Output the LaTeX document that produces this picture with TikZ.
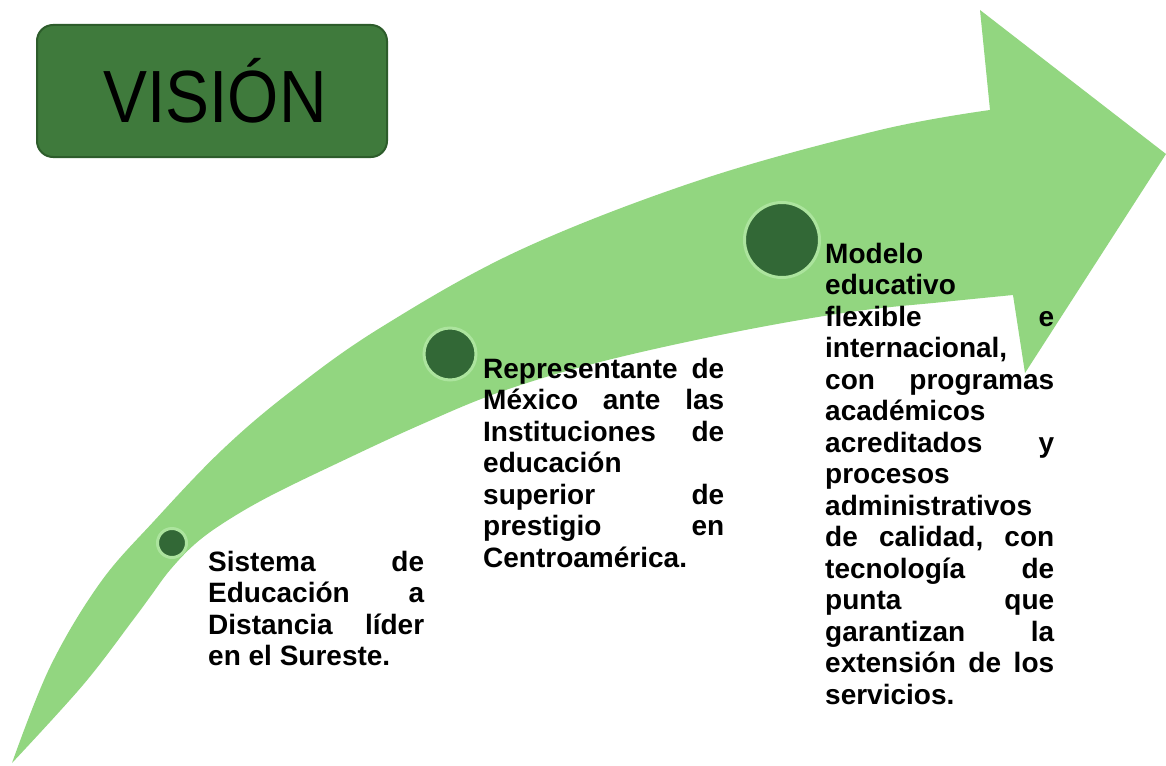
\documentclass[tikz,border=0pt]{standalone}
\usepackage{fontspec}
\setmainfont{Liberation Sans}
\definecolor{arrowgreen}{RGB}{146,214,128}
\definecolor{dotgreen}{RGB}{50,104,54}
\definecolor{halogreen}{RGB}{172,228,158}
\definecolor{boxgreen}{RGB}{63,122,60}
\definecolor{boxedge}{RGB}{45,92,43}
\tikzset{
  txt/.style={anchor=base west, inner sep=0pt, font=\bfseries\fontsize{28}{31}\selectfont, text=black},
  dotnode/.style={circle, fill=dotgreen, draw=halogreen, line width=3pt, inner sep=0pt},
  titlebox/.style={rounded corners=16pt, fill=boxgreen, draw=boxedge, line width=2pt, inner sep=0pt},
}
\begin{document}
\begin{tikzpicture}[x=1pt,y=-1pt]
\useasboundingbox (0,0) rectangle (1166,765);
\fill[white] (0,0) rectangle (1166,765);
\begin{scope}
\clip (0,0) rectangle (1166,765);
\fill[arrowgreen] plot[smooth, tension=0.6] coordinates {(12,763) (50,667) (100,583) (155,520) (222,450) (290,392) (380,328) (520,250) (700,180) (880,130) (990,110)}
  -- (980,10) -- (1166,154) -- (1025,373) -- (1013,295)
  -- plot[smooth, tension=0.6] coordinates {(1013,295) (943,302) (850,312) (730,333) (600,362) (500,392) (420,425) (340,462) (270,496) (225,522) (195,544) (170,570) (150,597) (133,620) (83,685) (12,763)}
  -- cycle;
\end{scope}
% title
\node[titlebox, minimum width=350pt, minimum height=132pt] (title) at (212,91) {};
\node[anchor=base, inner sep=0pt, font=\fontsize{74}{74}\selectfont] (titletext) at (215,122) {\scalebox{0.89}[1]{VISIÓN}};
% dots
\node[dotnode, minimum size=29pt] (d1) at (172,543) {};
\node[dotnode, minimum size=52pt] (d2) at (450,354) {};
\node[dotnode, minimum size=75pt] (d3) at (782,240) {};
% column 1
\foreach \t [count=\i] in {{Sistema\hfill de},{Educación\hfill a},{Distancia\hfill líder},{en el Sureste.}}
  \node[txt] (ca\i) at (208,{571+(\i-1)*31.5}) {\hbox to 216pt{\t\hfil}};
% column 2
\foreach \t [count=\i] in {{Representante\hfill de},{México\hfill ante\hfill las},{Instituciones\hfill de},{educación},{superior\hfill de},{prestigio\hfill en},{Centroamérica.}}
  \node[txt] (cb\i) at (483,{378+(\i-1)*31.5}) {\hbox to 241pt{\t\hfil}};
% column 3
\foreach \t [count=\i] in {{Modelo},{educativo},{flexible\hfill e},{internacional,},{con\hfill programas},{académicos},{acreditados\hfill y},{procesos},{administrativos},{de\hfill calidad,\hfill con},{tecnología\hfill de},{punta\hfill que},{garantizan\hfill la},{extensión\hfill de\hfill los},{servicios.}}
  \node[txt] (cc\i) at (825,{263+(\i-1)*31.5}) {\hbox to 229pt{\t\hfil}};
\end{tikzpicture}
\end{document}
